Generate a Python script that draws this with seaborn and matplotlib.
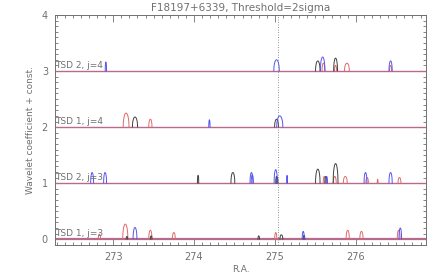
import numpy as np
import pandas as pd
import matplotlib
matplotlib.use("Agg")
import matplotlib.pyplot as plt
import seaborn as sns

# Rows: baseline offset and label
row_offsets = [0, 1, 2, 3]
row_labels = ["TSD 1, j=3", "TSD 2, j=3", "TSD 1, j=4", "TSD 2, j=4"]

# Peaks: row, centre (R.A.), height, half width, colour
peak_row = [0, 0, 0, 0, 0, 0, 0, 0, 0, 0, 0, 0, 0, 0, 0, 0,
            1, 1, 1, 1, 1, 1, 1, 1, 1, 1, 1, 1, 1, 1, 1, 1, 1, 1, 1, 1, 1, 1,
            2, 2, 2, 2, 2, 2,
            3, 3, 3, 3, 3, 3, 3, 3, 3, 3]
peak_ra = [272.83, 273.15, 273.17, 273.27, 273.46, 273.47, 273.75, 274.80, 275.01, 275.08,
           275.35, 275.36, 275.90, 276.07, 276.53, 276.55,
           272.74, 272.90, 274.05, 274.48, 274.71, 275.01, 275.02, 275.15, 275.53, 275.61,
           275.63, 275.64, 275.75, 275.74, 275.87, 276.12, 276.14, 276.27, 276.43, 276.54,
           275.03, 274.72,
           273.16, 273.27, 273.46, 274.19, 275.02, 275.06,
           272.91, 275.02, 275.53, 275.59, 275.60, 275.75, 275.75, 275.89, 276.43, 276.43]
peak_h = [0.09, 0.27, 0.05, 0.21, 0.16, 0.06, 0.12, 0.06, 0.12, 0.08,
          0.14, 0.07, 0.16, 0.14, 0.16, 0.20,
          0.19, 0.19, 0.14, 0.19, 0.19, 0.24, 0.12, 0.14, 0.25, 0.12,
          0.12, 0.12, 0.35, 0.12, 0.12, 0.19, 0.10, 0.07, 0.19, 0.10,
          0.10, 0.15,
          0.25, 0.18, 0.14, 0.13, 0.14, 0.20,
          0.16, 0.20, 0.18, 0.25, 0.14, 0.23, 0.10, 0.14, 0.18, 0.10]
peak_w = [0.014, 0.032, 0.010, 0.024, 0.020, 0.010, 0.018, 0.010, 0.013, 0.018,
          0.013, 0.010, 0.020, 0.020, 0.018, 0.016,
          0.018, 0.018, 0.008, 0.024, 0.018, 0.020, 0.010, 0.005, 0.028, 0.013,
          0.013, 0.010, 0.030, 0.018, 0.024, 0.018, 0.016, 0.005, 0.020, 0.018,
          0.008, 0.013,
          0.036, 0.032, 0.020, 0.008, 0.024, 0.038,
          0.008, 0.034, 0.028, 0.028, 0.018, 0.024, 0.013, 0.030, 0.020, 0.013]
peak_col = ["red", "red", "black", "blue", "red", "black", "red", "black", "red", "black",
            "blue", "black", "red", "red", "red", "blue",
            "blue", "blue", "black", "black", "blue", "blue", "black", "blue", "black", "red",
            "black", "blue", "black", "red", "red", "blue", "red", "red", "blue", "red",
            "black", "blue",
            "red", "black", "red", "blue", "black", "blue",
            "blue", "blue", "black", "blue", "red", "black", "red", "red", "blue", "red"]

ra_min, ra_max = 272.28, 276.87
ra_mark = 275.04

palette = {"black": "#404040", "red": "#e06868", "blue": "#5555ee"}

# build arc curves for every peak
rows = []
for i in range(len(peak_ra)):
    t = np.linspace(-1, 1, 41)
    xs = peak_ra[i] + t * peak_w[i]
    ys = row_offsets[peak_row[i]] + peak_h[i] * np.sqrt(1 - t ** 2)
    for x, y in zip(xs, ys):
        rows.append({"ra": x, "coef": y, "peak": i, "colour": peak_col[i]})
peaks = pd.DataFrame(rows)

sns.set_style("ticks")
plt.rcParams["font.family"] = ["DejaVu Sans"]

fig = plt.figure(figsize=(4.43, 2.77), dpi=100)
ax = fig.add_axes([0.124, 0.116, 0.838, 0.830])

grey = "#707070"
for off, lab in zip(row_offsets, row_labels):
    ax.axhline(off, color="#b86a8c", lw=1.6 if off == 0 else 1.0, zorder=1)
    ax.text(ra_min + 0.005, off + 0.02, lab, fontsize=6.5, color=grey, va="bottom", ha="left")

sns.lineplot(data=peaks, x="ra", y="coef", units="peak", estimator=None,
             hue="colour", palette=palette, lw=0.7, legend=False, ax=ax, sort=False)

ax.axvline(ra_mark, color=grey, lw=0.6, ls=(0, (1, 2)))

ax.set_xlim(ra_min, ra_max)
ax.set_ylim(-0.1, 4)
ax.set_xticks([273, 274, 275, 276])
ax.set_yticks([0, 1, 2, 3, 4])
ax.set_xticks(np.arange(272.3, 276.9, 0.1), minor=True)
ax.set_yticks(np.arange(0, 4.01, 0.1), minor=True)
ax.tick_params(which="both", direction="in", top=True, right=True, colors=grey,
               labelsize=7, width=0.6)
ax.tick_params(which="major", length=5, pad=5)
ax.tick_params(which="minor", length=2.5)
for s in ax.spines.values():
    s.set_color(grey)
    s.set_linewidth(0.7)

ax.set_xlabel("R.A.", fontsize=6.5, color=grey, labelpad=2)
ax.set_ylabel("Wavelet coefficient + const.", fontsize=6.5, color=grey, labelpad=5)
ax.set_title("F18197+6339, Threshold=2sigma", fontsize=7.5, color=grey, pad=3)

fig.savefig("out.png", dpi=100)
